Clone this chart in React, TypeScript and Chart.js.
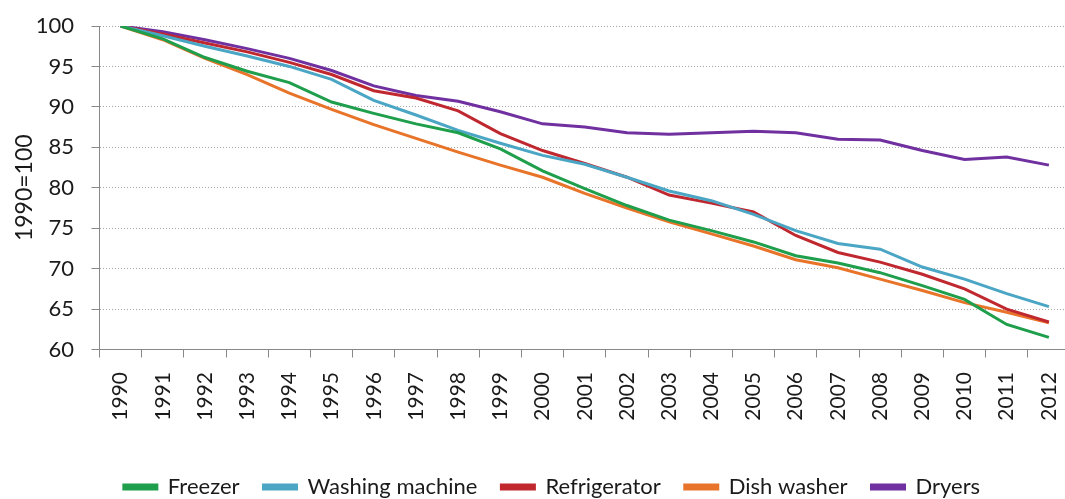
import React, { useEffect, useRef } from 'react';
import { Chart, registerables } from 'chart.js';
Chart.register(...registerables);

const years = ['1990','1991','1992','1993','1994','1995','1996','1997','1998','1999','2000','2001','2002','2003','2004','2005','2006','2007','2008','2009','2010','2011','2012'];
const freezer = [100, 98.4, 96.1, 94.4, 93.0, 90.6, 89.2, 87.9, 86.8, 84.8, 82.1, 79.9, 77.8, 76.0, 74.7, 73.3, 71.6, 70.7, 69.5, 67.9, 66.2, 63.1, 61.5];
const washingMachine = [100, 98.8, 97.5, 96.3, 95.0, 93.4, 90.8, 89.0, 87.1, 85.5, 84.0, 82.9, 81.3, 79.6, 78.4, 76.7, 74.7, 73.1, 72.4, 70.2, 68.7, 66.9, 65.3];
const refrigerator = [100, 99.0, 97.9, 96.8, 95.5, 94.0, 92.0, 91.1, 89.5, 86.7, 84.6, 83.0, 81.3, 79.1, 78.1, 77.0, 74.1, 72.0, 70.8, 69.3, 67.5, 65.0, 63.4];
const dishWasher = [100, 98.3, 96.0, 94.0, 91.7, 89.7, 87.8, 86.1, 84.4, 82.8, 81.3, 79.3, 77.5, 75.8, 74.3, 72.8, 71.1, 70.1, 68.7, 67.3, 65.8, 64.6, 63.3];
const dryers = [100, 99.3, 98.3, 97.2, 96.0, 94.5, 92.6, 91.4, 90.7, 89.4, 87.9, 87.5, 86.8, 86.6, 86.8, 87.0, 86.8, 86.0, 85.9, 84.6, 83.5, 83.8, 82.8];

const seriesNames = ['Freezer', 'Washing machine', 'Refrigerator', 'Dish washer', 'Dryers'];
const seriesColors = ['#1f9e4c', '#4aa6c4', '#c0282f', '#e8742a', '#7030a0'];
const seriesData = [freezer, washingMachine, refrigerator, dishWasher, dryers];

const yTitle = '1990=100';
const FONT = 'Lato, "Noto Sans", sans-serif';

export default function App() {
  const ref = useRef<HTMLCanvasElement>(null);
  useEffect(() => {
    document.body.style.margin = '0';
    const chart = new Chart(ref.current!, {
      type: 'line',
      data: {
        labels: years,
        datasets: seriesNames.map((name, i) => ({
          label: name,
          data: seriesData[i],
          borderColor: seriesColors[i],
          backgroundColor: seriesColors[i],
          borderWidth: 3,
          pointRadius: 0,
          tension: 0,
          fill: false,
        })),
      },
      options: {
        responsive: false,
        animation: false,
        layout: { padding: { left: 34, right: 2, top: 26, bottom: 0 } },
        plugins: {
          tooltip: { enabled: false },
          legend: {
            position: 'bottom',
            labels: {
              font: { family: FONT, size: 22 },
              color: '#1a1a1a',
              boxWidth: 33,
              boxHeight: 4,
              padding: 24,
            },
          },
        },
        scales: {
          x: {
            offset: true,
            grid: {
              offset: true,
              drawOnChartArea: false,
              drawTicks: true,
              tickLength: 8,
              tickColor: '#888888',
            },
            border: { color: '#888888', width: 1 },
            ticks: {
              autoSkip: false,
              minRotation: 90,
              maxRotation: 90,
              padding: 14.5,
              color: '#1a1a1a',
              font: { family: FONT, size: 21 },
            },
            afterFit: (s: any) => { s.height = 102.5; s.paddingLeft = 0; s.paddingRight = 0; },
          },
          y: {
            min: 60,
            max: 100,
            ticks: {
              stepSize: 5,
              padding: 17.5,
              color: '#1a1a1a',
              font: { family: FONT, size: 22 },
            },
            grid: {
              color: '#a6a6a6',
              lineWidth: 1,
              tickLength: 8,
              tickColor: '#888888',
            },
            border: { color: '#888888', width: 1, dash: [1, 2] },
            title: {
              display: true,
              text: yTitle,
              color: '#1a1a1a',
              font: { family: FONT, size: 23 },
              padding: { top: -22.8, bottom: 0 },
            },
            afterFit: (s: any) => { s.width = 65.5; s.paddingTop = 0; s.paddingBottom = 0; },
          },
        },
      },
    });
    return () => chart.destroy();
  }, []);
  return (
    <div style={{ width: 1065, height: 499, overflow: 'hidden', position: 'relative' }}>
      <canvas ref={ref} width={1072} height={508} style={{ display: 'block', width: 1072, height: 508 }} />
    </div>
  );
}
